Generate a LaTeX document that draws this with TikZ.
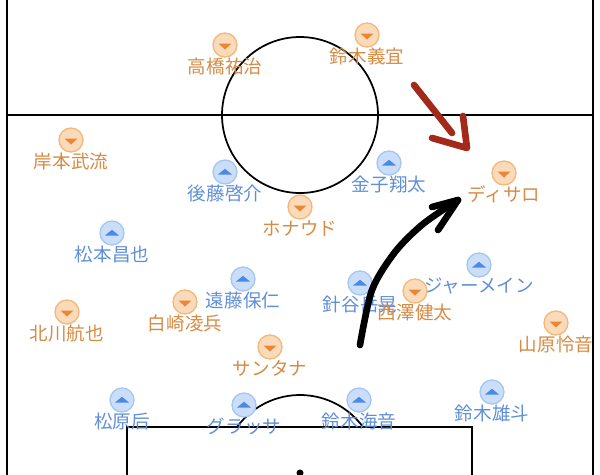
\documentclass[tikz,border=0pt]{standalone}
\usepackage{fontspec}
\usepackage{tikz}
\newfontfamily\jpfont{Noto Sans CJK JP}
\definecolor{homefill}{HTML}{F9DABA}
\definecolor{homeedge}{HTML}{F4B87A}
\definecolor{hometri}{HTML}{EE8532}
\definecolor{hometext}{HTML}{D68A43}
\definecolor{awayfill}{HTML}{CADEFA}
\definecolor{awayedge}{HTML}{A6C6F2}
\definecolor{awaytri}{HTML}{4A8AE6}
\definecolor{awaytext}{HTML}{5F8FD7}
\definecolor{runred}{HTML}{A3291B}

\begin{document}
\begin{tikzpicture}[x=0.75pt,y=-0.75pt,node distance=16.1pt,semithick]
\tikzstyle{home}=[circle,minimum size=18pt,inner sep=0pt,fill=homefill,draw=homeedge,line width=1pt,
  path picture={\fill[hometri,shift={(path picture bounding box.center)}] (-6.5,-1.5) -- (6.5,-1.5) -- (0,4.5) -- cycle;}]
\tikzstyle{away}=[circle,minimum size=18pt,inner sep=0pt,fill=awayfill,draw=awayedge,line width=1pt,
  path picture={\fill[awaytri,shift={(path picture bounding box.center)}] (-7,2.5) -- (7,2.5) -- (0,-3.2) -- cycle;}]
\tikzstyle{homename}=[inner sep=0pt,text=hometext,font=\jpfont\fontsize{13.9}{16}\selectfont]
\tikzstyle{awayname}=[inner sep=0pt,text=awaytext,font=\jpfont\fontsize{13.9}{16}\selectfont]
\tikzstyle{stroke}=[line width=5pt,line cap=round,line join=round]

\useasboundingbox (0,0) rectangle (600,475);

% pitch
\draw[line width=1.8pt] (7,-5) -- (7,480);
\draw[line width=1.8pt] (593,-5) -- (593,480);
\draw[line width=1.3pt] (7,115) -- (593,115);
\coordinate (centre) at (300,115);
\draw[line width=1.3pt] (centre) circle[radius=78];
\draw[line width=1.3pt] (127,480) -- (127,427) -- (472,427) -- (472,480);
\coordinate (spot) at (300,473);
\fill (spot) circle[radius=3.5];
\draw[line width=1.3pt] (spot) ++(-143.4:78) arc[start angle=-143.4,end angle=-36.6,radius=78];

% away side
\node[away] (goto) at (225,172) {};
\node[awayname] (goto-n) [below of=goto] {後藤啓介};
\node[away] (kaneko) at (389,163) {};
\node[awayname] (kaneko-n) [below of=kaneko] {金子翔太};
\node[away] (matsumoto) at (112,233) {};
\node[awayname] (matsumoto-n) [below of=matsumoto] {松本昌也};
\node[away] (endo) at (243,279) {};
\node[awayname] (endo-n) [below of=endo] {遠藤保仁};
\node[away] (haritani) at (360,283) {};
\node[awayname] (haritani-n) [below of=haritani] {針谷岳晃};
\node[away] (jermaine) at (479,265) {};
\node[awayname] (jermaine-n) [below of=jermaine] {ジャーメイン};
\node[away] (matsubara) at (122,400) {};
\node[awayname] (matsubara-n) [below of=matsubara] {松原后};
\node[away] (grassa) at (244,405) {};
\node[awayname] (grassa-n) [below of=grassa] {グラッサ};
\node[away] (suzukik) at (359,400) {};
\node[awayname] (suzukik-n) [below of=suzukik] {鈴木海音};
\node[away] (suzukiyu) at (492,392) {};
\node[awayname] (suzukiyu-n) [below of=suzukiyu] {鈴木雄斗};

% home side
\node[home] (takahashi) at (225,45) {};
\node[homename] (takahashi-n) [below of=takahashi] {高橋祐治};
\node[home] (suzukiy) at (367,35) {};
\node[homename] (suzukiy-n) [below of=suzukiy] {鈴木義宜};
\node[home] (kishimoto) at (71,140) {};
\node[homename] (kishimoto-n) [below of=kishimoto] {岸本武流};
\node[home] (disaro) at (504,173) {};
\node[homename] (disaro-n) [below of=disaro] {ディサロ};
\node[home] (ronaldo) at (300,207) {};
\node[homename] (ronaldo-n) [below of=ronaldo] {ホナウド};
\node[home] (kitagawa) at (67,312) {};
\node[homename] (kitagawa-n) [below of=kitagawa] {北川航也};
\node[home] (shirasaki) at (185,302) {};
\node[homename] (shirasaki-n) [below of=shirasaki] {白崎凌兵};
\node[home] (nishizawa) at (415,291) {};
\node[homename] (nishizawa-n) [below of=nishizawa] {西澤健太};
\node[home] (yamahara) at (556,323) {};
\node[homename] (yamahara-n) [below of=yamahara] {山原怜音};
\node[home] (santana) at (270,347) {};
\node[homename] (santana-n) [below of=santana] {サンタナ};

% runs
\coordinate (redfrom) at (414,85);
\coordinate (redto) at (467,148);
\draw[stroke,runred] (redfrom) -- (452,133);
\draw[stroke,runred] (432,138) -- (redto) -- (463,116);
\coordinate (blackfrom) at (360,345);
\coordinate (blackto) at (458,200);
\draw[stroke,black] plot[smooth] coordinates {(blackfrom) (372,290) (395,252) (423,224) (blackto)};
\draw[stroke,black] (432,207) -- (blackto) -- (438,230);
\end{tikzpicture}
\end{document}
